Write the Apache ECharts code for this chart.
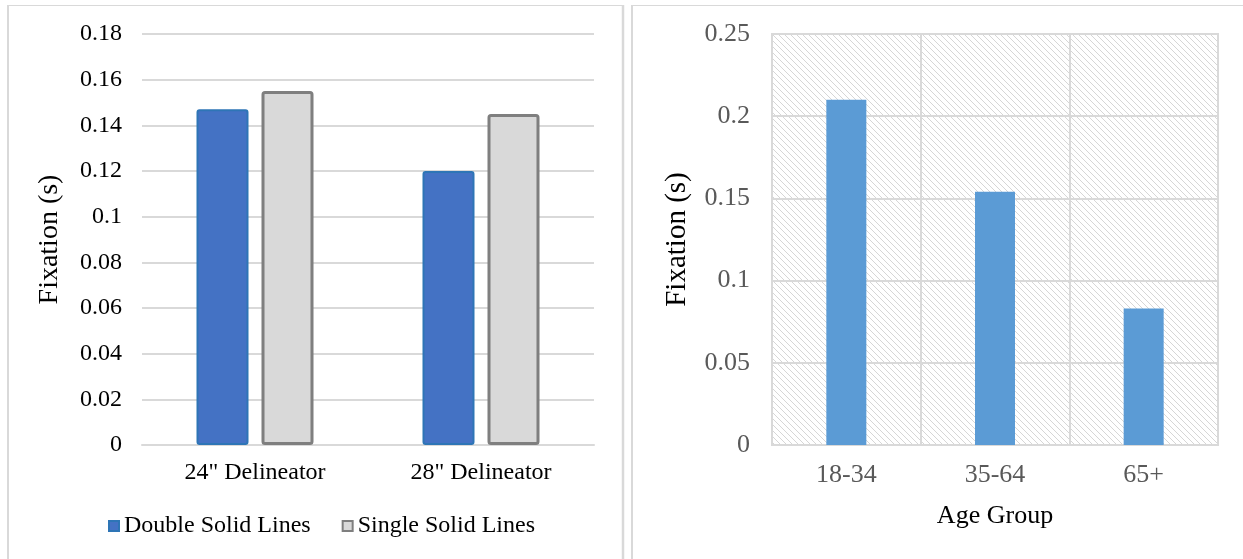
<!DOCTYPE html>
<html>
<head>
<meta charset="utf-8">
<script src="https://cdn.jsdelivr.net/npm/echarts@6/dist/echarts.min.js"></script>
<style>
  html, body { margin: 0; padding: 0; background: #ffffff; }
  #chart { width: 1243px; height: 559px; }
</style>
</head>
<body>
<div id="chart"></div>
<script>
// Left panel: fixation by delineator height
const delineatorCategories = ['24" Delineator', '28" Delineator'];
const doubleSolidLines = [0.147, 0.120];
const singleSolidLines = [0.155, 0.145];
const leftTicks = { min: 0, max: 0.18, interval: 0.02 };

// Right panel: fixation by age group
const ageGroups = ['18-34', '35-64', '65+'];
const ageFixation = [0.21, 0.154, 0.083];
const rightTicks = { min: 0, max: 0.25, interval: 0.05 };

const serif = 'Liberation Serif, Times New Roman, serif';

// Diagonal hatch used as the plot background of the right panel
function hatchPattern() {
  const c = document.createElement('canvas');
  c.width = 6; c.height = 6;
  const g = c.getContext('2d');
  g.fillStyle = '#ffffff';
  g.fillRect(0, 0, 6, 6);
  g.strokeStyle = '#d6d6d6';
  g.lineWidth = 1;
  g.beginPath();
  g.moveTo(-1, -1); g.lineTo(7, 7);
  g.moveTo(-4, 2); g.lineTo(4, 10);
  g.moveTo(2, -4); g.lineTo(10, 4);
  g.stroke();
  return { image: c, repeat: 'repeat' };
}

const chart = echarts.init(document.getElementById('chart'), null, { renderer: 'canvas' });

chart.setOption({
  animation: false,
  backgroundColor: '#ffffff',
  textStyle: { fontFamily: serif },
  graphic: [
    // panel frames
    { type: 'line', shape: { x1: 7, y1: 5.5, x2: 623, y2: 5.5 }, style: { stroke: '#d9d9d9', lineWidth: 1 } },
    { type: 'line', shape: { x1: 8, y1: 5, x2: 8, y2: 559 }, style: { stroke: '#d9d9d9', lineWidth: 2 } },
    { type: 'line', shape: { x1: 623, y1: 5, x2: 623, y2: 559 }, style: { stroke: '#d9d9d9', lineWidth: 2.5 } },
    { type: 'line', shape: { x1: 631, y1: 5.5, x2: 1243, y2: 5.5 }, style: { stroke: '#d9d9d9', lineWidth: 1 } },
    { type: 'line', shape: { x1: 632, y1: 5, x2: 632, y2: 559 }, style: { stroke: '#d9d9d9', lineWidth: 2 } }
  ],
  legend: {
    data: ['Double Solid Lines', 'Single Solid Lines'],
    left: 108,
    top: 514,
    padding: 0,
    itemWidth: 10,
    itemHeight: 10,
    itemGap: 31,
    icon: 'rect',
    textStyle: { fontFamily: serif, fontSize: 24, color: '#000000' }
  },
  grid: [
    { left: 142, top: 34, width: 452, height: 411 },
    {
      left: 772, top: 34, width: 446, height: 411,
      show: true,
      backgroundColor: hatchPattern(),
      borderColor: '#d9d9d9',
      borderWidth: 2
    }
  ],
  xAxis: [
    {
      type: 'category',
      gridIndex: 0,
      data: delineatorCategories,
      axisLine: { show: true, lineStyle: { color: '#d9d9d9', width: 2 } },
      axisTick: { show: false },
      axisLabel: { fontFamily: serif, fontSize: 24, color: '#000000', margin: 16 }
    },
    {
      type: 'category',
      gridIndex: 1,
      data: ageGroups,
      name: 'Age Group',
      nameLocation: 'middle',
      nameGap: 58,
      nameTextStyle: { fontFamily: serif, fontSize: 26, color: '#000000' },
      axisLine: { show: true, lineStyle: { color: '#d9d9d9', width: 2 } },
      axisTick: { show: false },
      splitLine: { show: true, lineStyle: { color: '#d9d9d9', width: 2 } },
      axisLabel: { fontFamily: serif, fontSize: 26, color: '#595959', margin: 17 }
    }
  ],
  yAxis: [
    {
      type: 'value',
      gridIndex: 0,
      min: leftTicks.min,
      max: leftTicks.max,
      interval: leftTicks.interval,
      name: 'Fixation (s)',
      nameLocation: 'middle',
      nameGap: 78,
      nameTextStyle: { fontFamily: serif, fontSize: 28, color: '#000000' },
      axisLine: { show: false },
      axisTick: { show: false },
      splitLine: { lineStyle: { color: '#d9d9d9', width: 2 } },
      axisLabel: { fontFamily: serif, fontSize: 24, color: '#000000', margin: 20 }
    },
    {
      type: 'value',
      gridIndex: 1,
      min: rightTicks.min,
      max: rightTicks.max,
      interval: rightTicks.interval,
      name: 'Fixation (s)',
      nameLocation: 'middle',
      nameGap: 80,
      nameTextStyle: { fontFamily: serif, fontSize: 29, color: '#000000' },
      axisLine: { show: false },
      axisTick: { show: false },
      splitLine: { lineStyle: { color: '#d9d9d9', width: 2 } },
      axisLabel: { fontFamily: serif, fontSize: 26, color: '#595959', margin: 22 }
    }
  ],
  series: [
    {
      name: 'Double Solid Lines',
      type: 'bar',
      xAxisIndex: 0,
      yAxisIndex: 0,
      data: doubleSolidLines,
      barWidth: 52,
      barGap: '25%',
      itemStyle: { color: '#4472c4', borderColor: '#2e75b6', borderWidth: 2, borderRadius: 2 }
    },
    {
      name: 'Single Solid Lines',
      type: 'bar',
      xAxisIndex: 0,
      yAxisIndex: 0,
      data: singleSolidLines,
      barWidth: 52,
      barGap: '25%',
      itemStyle: { color: '#d9d9d9', borderColor: '#7f7f7f', borderWidth: 3, borderRadius: 2 }
    },
    {
      name: 'Fixation by Age',
      type: 'bar',
      xAxisIndex: 1,
      yAxisIndex: 1,
      data: ageFixation,
      barWidth: 40,
      itemStyle: { color: '#5b9bd5' }
    }
  ]
});
</script>
</body>
</html>
